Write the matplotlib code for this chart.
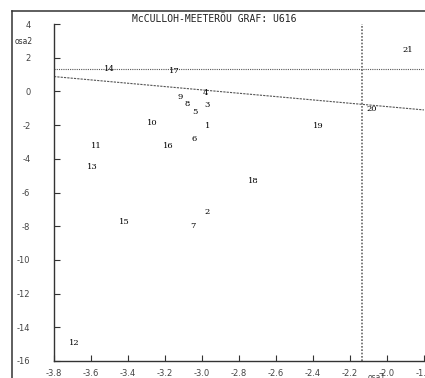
import numpy as np
import matplotlib.pyplot as plt
from matplotlib.lines import Line2D

# Point numbers and their coordinates (osa1, osa2)
point_ids = [1, 2, 3, 4, 5, 6, 7, 8, 9, 10, 11, 12, 13, 14, 15, 16, 17, 18, 19, 20, 21]
osa1 = [-2.97, -2.97, -2.97, -2.98, -3.04, -3.04, -3.05, -3.08, -3.12, -3.27, -3.57,
        -3.69, -3.59, -3.50, -3.42, -3.18, -3.15, -2.72, -2.37, -2.08, -1.89]
osa2 = [-2.05, -7.16, -0.81, -0.09, -1.22, -2.82, -7.99, -0.75, -0.33, -1.88, -3.24,
        -14.93, -4.49, 1.33, -7.75, -3.24, 1.21, -5.32, -2.05, -1.04, 2.46]

# Critical lines and the fitted trend line
x_crit = -2.137
y_crit = 1.31
trend_x = [-3.8, -1.8]
trend_y = [0.88, -1.10]

W, H = 425, 378
fig = plt.figure(figsize=(W / 100, H / 100), dpi=100)
fig.patch.set_facecolor('white')

# Outer frame (left and top edges only are visible)
fig.add_artist(Line2D([12 / W, 12 / W], [0, 1 - 11 / H], color='#333333', lw=1.1))
fig.add_artist(Line2D([12 / W, 1], [1 - 11 / H, 1 - 11 / H], color='#333333', lw=1.1))

ax = fig.add_axes([54 / W, 17 / H, 370 / W, 337 / H])
ax.set_xlim(-3.8, -1.8)
ax.set_ylim(-16, 4)

for side in ['top', 'right']:
    ax.spines[side].set_visible(False)
for side in ['left', 'bottom']:
    ax.spines[side].set_color('#333333')
    ax.spines[side].set_linewidth(1.0)

ax.set_xticks(np.arange(-3.8, -1.79, 0.2))
ax.set_xticklabels(['-3.8', '-3.6', '-3.4', '-3.2', '-3.0', '-2.8', '-2.6',
                    '-2.4', '-2.2', '-2.0', '-1.8'])
ax.set_yticks(np.arange(-16, 4.1, 2))
ax.set_yticklabels([str(v) for v in range(-16, 5, 2)])
ax.tick_params(axis='x', direction='in', length=4, width=0.8, pad=6,
               labelsize=6, colors='#333333', labelcolor='#444444')
ax.tick_params(axis='y', direction='in', length=4, width=0.8, pad=17,
               labelsize=6, colors='#333333', labelcolor='#444444')

ax.axhline(y_crit, color='#555555', lw=0.8, ls=(0, (1, 1)))
ax.plot([x_crit, x_crit], [-16, 4], color='#666666', lw=1.2, ls=(0, (1, 1)))
ax.plot(trend_x, trend_y, color='#555555', lw=0.8, ls=(0, (2, 1)))

for pid, xv, yv in zip(point_ids, osa1, osa2):
    ax.text(xv, yv, str(pid), ha='center', va='center', fontsize=6,
            family='DejaVu Serif', color='black')

fig.text(214 / W, 1 - 19 / H, 'McCULLOH-MEETERÖU GRAF: U616', ha='center', va='center',
         fontsize=7, family='DejaVu Sans Mono', color='#222222')
fig.text(15 / W, 1 - 42 / H, 'osa2', ha='left', va='center', fontsize=5.5, color='#333333')
fig.text(377 / W, 1 - 378 / H, 'osa1', ha='center', va='center', fontsize=5.5, color='#444444')

fig.savefig('out.png', dpi=100)
